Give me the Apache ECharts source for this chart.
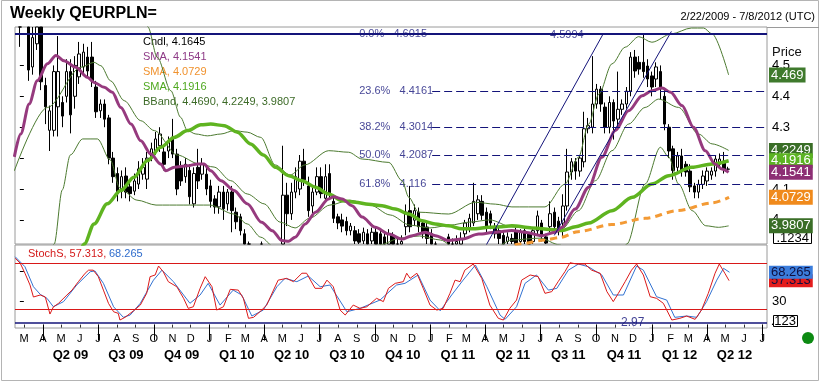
<!DOCTYPE html>
<html><head><meta charset="utf-8">
<script src="https://cdn.jsdelivr.net/npm/echarts@6/dist/echarts.min.js"></script>
<style>html,body{margin:0;padding:0;background:#fff}#c{width:821px;height:383px}</style>
</head><body><div id="c"></div>
<script>
// ---------- DATA ----------
// weekly candles, index 0 = week of 2/22/2009
const candleOpen = [4.80,4.70,4.76,4.495,4.57,4.66,4.435,4.29,4.29,4.366,4.38,4.40,4.48,4.40,4.463,4.495,4.527,4.527,4.43,4.353,4.375,4.33,4.20,4.15,4.093,4.142,4.107,4.093,4.116,4.148,4.132,4.20,4.223,4.24,4.22,4.223,4.268,4.213,4.17,4.14,4.16,4.052,4.17,4.148,4.148,4.11,4.068,4.042,4.09,4.052,4.09,4.025,4.01,3.955,3.915,3.885,3.875,3.885,3.88,3.87,3.875,3.86,3.90,4.08,4.02,4.09,4.10,4.19,4.11,4.045,4.09,4.14,4.07,4.15,4.06,4.01,4.00,3.995,3.965,3.965,3.955,3.932,3.955,3.932,3.96,3.955,3.945,3.91,3.95,3.92,3.91,3.978,4.03,3.999,4.025,3.99,3.977,3.955,3.91,3.89,3.87,3.945,3.915,3.92,3.92,3.955,3.975,3.99,4.02,4.06,4.025,4.02,3.978,3.965,3.95,3.93,3.94,3.965,3.93,3.965,3.955,3.93,3.965,3.99,3.945,3.978,4.025,3.996,3.99,4.045,4.155,4.188,4.158,4.188,4.295,4.30,4.375,4.423,4.365,4.30,4.38,4.326,4.358,4.375,4.417,4.527,4.51,4.51,4.498,4.466,4.456,4.48,4.40,4.30,4.23,4.17,4.207,4.18,4.158,4.11,4.09,4.115,4.126,4.145,4.158,4.18,4.19,4.164];
const candleClose = [4.70,4.76,4.485,4.59,4.65,4.447,4.366,4.353,4.48,4.48,4.336,4.48,4.34,4.50,4.537,4.543,4.482,4.45,4.35,4.375,4.326,4.20,4.14,4.085,4.14,4.09,4.085,4.126,4.165,4.17,4.20,4.23,4.262,4.278,4.18,4.252,4.213,4.10,4.126,4.18,4.075,4.15,4.126,4.18,4.10,4.06,4.042,4.09,4.036,4.09,4.03,3.994,3.965,3.915,3.885,3.875,3.885,3.88,3.87,3.875,3.86,3.88,4.08,4.02,4.09,4.14,4.19,4.13,4.03,4.09,4.14,4.085,4.14,4.085,4.005,3.99,3.98,3.965,3.98,3.932,3.928,3.96,3.92,3.96,3.92,3.915,3.91,3.955,3.915,3.91,3.93,4.025,3.978,4.03,3.978,3.955,3.94,3.91,3.89,3.87,3.88,3.915,3.92,3.93,3.94,3.99,4.005,4.06,4.065,4.015,3.978,3.99,3.955,3.94,3.922,3.945,3.93,3.92,3.96,3.93,3.92,3.965,4.013,3.95,3.925,4.02,3.978,3.97,4.045,4.155,4.188,4.158,4.20,4.295,4.305,4.375,4.423,4.375,4.30,4.38,4.32,4.358,4.375,4.417,4.527,4.482,4.488,4.48,4.456,4.43,4.495,4.424,4.31,4.223,4.16,4.207,4.158,4.155,4.107,4.09,4.115,4.142,4.158,4.158,4.197,4.197,4.165,4.1645];
const candleLow = [4.56,4.65,4.45,4.47,4.55,4.42,4.31,4.223,4.27,4.27,4.30,4.38,4.28,4.36,4.44,4.47,4.46,4.43,4.33,4.33,4.30,4.18,4.12,4.06,4.07,4.07,4.06,4.08,4.10,4.13,4.10,4.19,4.21,4.22,4.16,4.20,4.20,4.08,4.11,4.12,4.05,4.04,4.10,4.13,4.08,4.04,4.02,4.02,4.00,4.03,3.96,3.97,3.95,3.89,3.87,3.86,3.86,3.86,3.85,3.85,3.84,3.84,3.88,3.98,4.00,4.07,4.08,4.11,4.01,4.02,4.08,4.07,4.06,4.07,3.99,3.97,3.96,3.95,3.95,3.91,3.91,3.92,3.90,3.92,3.90,3.90,3.89,3.89,3.90,3.89,3.89,3.95,3.96,3.98,3.96,3.94,3.92,3.89,3.87,3.85,3.84,3.89,3.89,3.90,3.90,3.94,3.96,3.98,4.00,4.00,3.96,3.97,3.94,3.92,3.90,3.91,3.91,3.90,3.91,3.91,3.90,3.91,3.95,3.93,3.90,3.96,3.96,3.95,3.945,4.03,4.13,4.13,4.14,4.17,4.28,4.28,4.36,4.35,4.28,4.28,4.26,4.30,4.34,4.36,4.40,4.46,4.47,4.46,4.43,4.40,4.43,4.39,4.29,4.20,4.13,4.15,4.14,4.14,4.09,4.07,4.07,4.10,4.11,4.13,4.14,4.17,4.15,4.155];
const candleHigh = [4.92,4.85,4.80,4.64,4.72,4.70,4.46,4.37,4.50,4.595,4.40,4.52,4.52,4.53,4.576,4.57,4.56,4.576,4.45,4.39,4.39,4.34,4.22,4.17,4.16,4.17,4.13,4.15,4.19,4.20,4.22,4.25,4.285,4.30,4.24,4.27,4.327,4.23,4.19,4.20,4.18,4.17,4.23,4.20,4.17,4.13,4.08,4.11,4.11,4.10,4.11,4.04,4.02,3.97,3.93,3.90,3.91,3.93,3.90,3.90,3.89,3.90,4.24,4.12,4.12,4.17,4.21,4.23,4.14,4.11,4.17,4.17,4.18,4.18,4.08,4.02,4.02,4.01,3.99,3.98,3.97,3.975,3.97,3.975,3.98,3.97,3.96,3.97,3.96,3.94,3.95,4.05,4.11,4.05,4.04,4.00,3.99,3.97,3.93,3.91,3.90,3.955,3.94,3.95,3.96,4.00,4.02,4.12,4.08,4.08,4.04,4.03,3.99,3.975,3.96,3.96,3.955,3.975,3.97,3.975,3.96,3.975,4.03,4.00,3.955,4.06,4.04,4.01,4.083,4.23,4.20,4.20,4.21,4.35,4.33,4.53,4.44,4.433,4.38,4.40,4.39,4.48,4.39,4.43,4.543,4.55,4.53,4.5994,4.52,4.48,4.51,4.50,4.42,4.31,4.24,4.22,4.23,4.19,4.18,4.12,4.13,4.16,4.17,4.17,4.21,4.215,4.22,4.172];

// moving averages / bands: [week, value]
const smaPurple = [[-1.3,4.204],[0.2,4.278],[2.2,4.375],[4.1,4.450],[6.5,4.505],[8.5,4.532],[10.4,4.515],[13.2,4.494],[15.9,4.462],[17.5,4.445],[19.9,4.429],[21.8,4.413],[23.8,4.364],[26.2,4.310],[28.5,4.256],[30.9,4.213],[33.2,4.181],[34.4,4.159],[36.4,4.170],[39.5,4.175],[41.9,4.181],[43.4,4.181],[45.0,4.159],[47.4,4.127],[50.5,4.095],[53.6,4.052],[57.0,3.992],[59.5,3.965],[61.8,3.933],[63.4,3.931],[64.9,3.944],[67.3,3.987],[69.7,4.025],[72.8,4.068],[74.0,4.075],[76.0,4.068],[78.3,4.046],[80.7,4.009],[83.8,3.976],[87.0,3.954],[90.1,3.938],[92.5,3.949],[95.6,3.960],[98.0,3.949],[101.1,3.933],[104.2,3.938],[108.2,3.954],[112.1,3.960],[116.0,3.966],[119.1,3.960],[123.1,3.949],[126.2,3.960],[127.8,3.976],[130.9,4.035],[134.1,4.106],[137.2,4.203],[140.4,4.289],[143.5,4.353],[146.7,4.402],[149.0,4.418],[151.4,4.427],[153.4,4.413],[156.1,4.370],[158.8,4.300],[161.6,4.224],[163.9,4.181],[165.5,4.165],[167.1,4.1541]];
const smaGreen = [[13.5,3.87],[15.2,3.922],[17.5,3.987],[20.6,4.052],[23.8,4.095],[26.9,4.138],[30.1,4.192],[33.2,4.235],[36.4,4.267],[39.5,4.289],[42.7,4.308],[45.0,4.310],[48.2,4.305],[51.3,4.284],[54.4,4.246],[57.4,4.210],[60.3,4.170],[63.4,4.143],[66.5,4.127],[69.7,4.106],[72.8,4.084],[76.0,4.062],[79.1,4.057],[82.2,4.051],[85.4,4.046],[88.5,4.035],[91.7,4.019],[94.8,3.997],[97.9,3.987],[101.1,3.981],[104.2,3.971],[107.4,3.971],[110.5,3.976],[113.6,3.978],[116.0,3.981],[120.7,3.974],[127.8,3.966],[131.0,3.978],[134.1,3.990],[139.6,4.030],[144.4,4.073],[149.0,4.116],[153.0,4.143],[158.4,4.170],[163.2,4.181],[167.1,4.1916]];
const smaOrange = [[114.0,3.905],[117.9,3.922],[123.8,3.935],[127.3,3.943],[131.6,3.962],[139.6,3.985],[147.4,4.005],[155.1,4.030],[163.2,4.055],[167.2,4.0729]];
const bbUpper = [[29.0,4.75],[30.2,4.624],[32.4,4.526],[35.6,4.418],[37.9,4.332],[39.5,4.289],[41.5,4.278],[44.2,4.272],[47.4,4.278],[50.5,4.289],[53.6,4.284],[56.8,4.267],[60.2,4.178],[63.7,4.145],[67.2,4.178],[72.8,4.224],[77.5,4.219],[80.7,4.197],[87.0,4.186],[90.1,4.127],[91.7,4.073],[94.0,4.025],[101.1,4.019],[107.4,4.057],[112.1,4.051],[116.0,4.042],[123.8,4.042],[128.5,4.116],[131.7,4.203],[134.1,4.310],[136.5,4.407],[139.6,4.505],[142.7,4.559],[145.9,4.593],[149.0,4.575],[153.6,4.602],[158.3,4.621],[161.2,4.621],[163.2,4.602],[167.1,4.469]];
const bbMiddle = [[-1.3,4.159],[6.5,4.364],[14.4,4.494],[17.5,4.510],[19.1,4.499],[21.4,4.450],[24.6,4.386],[28.5,4.321],[31.7,4.289],[37.1,4.210],[42.3,4.181],[45.8,4.171],[49.7,4.127],[53.6,4.084],[57.6,4.052],[61.3,3.993],[64.9,3.974],[68.4,4.006],[73.1,4.048],[77.8,4.064],[82.6,4.048],[87.3,4.016],[92.0,3.983],[96.7,3.974],[101.4,3.983],[106.1,3.993],[110.8,4.000],[116.0,3.977],[127.8,3.971],[131.7,4.030],[135.7,4.127],[139.6,4.224],[143.5,4.310],[147.4,4.364],[150.6,4.391],[155.3,4.364],[160.0,4.278],[163.2,4.246],[167.1,4.2249]];
const bbLower = [[7.1,3.90],[8.1,3.922],[10.0,4.097],[11.9,4.210],[14.8,4.262],[18.3,4.262],[21.3,4.194],[23.6,4.103],[27.6,4.064],[32.1,4.048],[38.5,4.048],[44.8,4.048],[50.5,4.019],[53.6,3.987],[56.8,3.944],[60.2,3.909],[63.7,3.918],[68.4,3.87],[77.8,3.887],[84.9,3.919],[89.6,3.941],[94.3,3.948],[99.1,3.935],[103.8,3.896],[110.8,3.90],[116.0,3.935],[122.6,3.941],[127.3,3.919],[132.1,3.838],[139.1,3.773],[143.1,3.922],[147.4,4.116],[151.0,4.235],[153.0,4.203],[155.3,4.116],[158.5,4.030],[161.7,3.981],[164.7,3.976],[167.1,3.9807]];

// stochastics: [week, value]
const stochK = [[-1.1,86.5],[0.1,80],[1.2,67],[2.4,51.6],[3.2,36],[4.8,38.6],[6.0,36],[7.1,13.8],[7.9,23],[9.1,27.7],[11.1,38.6],[12.3,45],[13.8,56],[15.4,67],[16.2,71],[17.3,71],[18.5,62.5],[19.7,45],[20.9,27.7],[22.1,16.8],[23.2,14.7],[23.6,6],[24.8,9.5],[26.8,18],[28.4,25.5],[29.9,40.8],[30.7,62.5],[31.9,64.7],[32.7,76.4],[33.8,69],[35.0,56],[37.0,49.4],[38.6,34.3],[39.7,21.2],[40.9,23.3],[42.5,47.3],[43.7,62.5],[45.3,49.4],[46.4,19],[48.0,23.3],[49.6,46],[51.5,45],[52.7,34.3],[53.9,8.2],[55.1,9.5],[56.6,16.8],[58.2,25.5],[59.8,45],[60.9,58],[62.9,60.3],[64.5,56],[66.5,67],[67.6,67],[69.6,47.3],[71.2,47.3],[72.4,58],[73.9,49.4],[75.5,19],[76.7,12.5],[78.6,25.5],[80.2,21.2],[81.8,23.3],[84.1,34.3],[85.7,30],[86.9,47.3],[88.5,53.8],[90.4,56],[91.2,67],[92.0,60.3],[93.6,67],[95.1,47.3],[96.7,25.5],[98.3,19],[99.8,21.2],[101.4,40.8],[102.6,58],[103.8,56],[104.9,71],[106.9,79],[108.9,60.3],[110.8,25.5],[112.8,8.2],[114.0,6],[115.5,21.2],[117.1,32],[118.3,58],[120.3,64.7],[122.2,62.5],[123.8,40.8],[125.4,43],[126.9,56],[128.5,69],[129.7,80.7],[131.3,79],[133.2,79],[134.8,71],[136.8,67],[138.4,43],[139.9,30],[141.1,40.8],[142.7,56],[144.2,71],[145.4,79],[147.0,64.7],[148.6,36.4],[150.1,34.3],[151.7,27.8],[153.7,6],[155.6,8.2],[157.2,11.2],[159.2,6.9],[160.7,19],[162.3,40.8],[163.9,67],[164.9,79],[166.2,67],[167.2,57.313]];
const stochD = [[-1.1,88.5],[1.2,75.5],[3.2,49.4],[4.8,39.5],[6.4,34.3],[7.9,23.3],[10.3,30],[13.4,51.6],[16.6,69],[17.7,70],[19.7,53.8],[22.1,23.3],[24.4,9.5],[26.0,12.5],[28.4,27.8],[31.5,58],[33.5,71],[36.2,56],[40.1,27.8],[42.5,38.6],[44.4,53.8],[47.2,25.5],[50.3,45],[52.3,38.6],[54.7,11.2],[57.4,19],[60.6,49.4],[62.5,60.3],[65.3,56],[68.0,63.4],[70.8,49.4],[73.1,51.6],[77.1,16.8],[80.2,21.2],[84.9,32],[88.8,51.6],[90.8,53.8],[92.0,58],[93.9,64.7],[96.7,32],[99.1,18],[101.8,38.6],[104.5,58],[107.4,77.7],[110.1,49.4],[113.2,12.5],[114.4,6.9],[117.1,23.3],[119.1,53.8],[121.8,64.7],[124.6,45],[126.6,47.3],[129.3,71],[131.7,79],[134.0,75.5],[137.2,64.7],[139.9,38.6],[142.3,38.6],[145.4,76.4],[147.0,71],[150.1,36.4],[152.5,32],[154.4,9.5],[157.2,11.2],[159.6,9.5],[161.9,30],[164.3,58],[165.9,73.4],[167.3,68.265]];

// annotations
const fibPct = ['0.0%','23.6%','38.2%','50.0%','61.8%'];
const fibLevels = [4.6015,4.4161,4.3014,4.2087,4.116];
const fibLabelWeek = 80.0, fibLineWeek = 97.2;
const highLevel = 4.5994, highLabelWeek = 125.0;
const trendA = [[109.0,3.895],[137.5,4.6015]];
const trendB = [[126.0,3.95],[153.6,4.61]];
const stochBands = [80,20];
const stochLow = 2.97, stochLowLabelWeek = 144.5;

// axis labels
const priceTicks = [4.0,4.1,4.2,4.3,4.4,4.5];
const stochTicks = [30,70];
const monthLetters = ['J','F','M','A','M','J','J','A','S','O','N','D'];
const quarterNames = ['Q2 09','Q3 09','Q4 09','Q1 10','Q2 10','Q3 10','Q4 10','Q1 11','Q2 11','Q3 11','Q4 11','Q1 12','Q2 12'];
const boxValues = [4.469,4.2249,4.1916,4.1541,4.0729,3.9807];
const boxColors = ['#3f7a2c','#3a6e27','#5cb423','#8d2f74','#f08a1c','#3a6e27'];
const stochBoxValues = [57.313,68.265];
const stochBoxColors = ['#e41c1c','#3b7ddc'];

// ---------- SCALES ----------
const START = Date.UTC(2009,1,22), WEEK = 7*864e5;
const wk = (y,m,d) => (Date.UTC(y,m-1,d)-START)/WEEK;
const X_MIN = wk(2009,2,14), X_MAX = wk(2012,7,9);
const Y_MIN = 3.922, Y_MAX = 4.6243, S_MIN = -4.4, S_MAX = 103.8;
const FONT = 'Liberation Sans, Arial, sans-serif';
const NAVY = '#14147a';

const monthTicks = [];
for (let y=2009,m=3; y<2012 || (y===2012 && m<=7); ) { monthTicks.push(wk(y,m,1)); m++; if (m>12){m=1;y++;} }
const quarterStarts = [];
for (let y=2009,m=4; y<2012 || (y===2012 && m<=7); ) { quarterStarts.push(wk(y,m,1)); m+=3; if (m>12){m-=12;y++;} }
const quarterMids = quarterNames.map((q,i)=> (quarterStarts[i]+quarterStarts[i+1])/2);

// candles limited to the visible price window (the pane crops them)
const clampY = v => Math.min(Y_MAX, Math.max(Y_MIN, v));
const candles = [];
candleOpen.forEach((o,i)=>{
  const c=candleClose[i], l=candleLow[i], h=candleHigh[i];
  if (h < Y_MIN || l > Y_MAX) return;
  candles.push([i, clampY(o), clampY(c), clampY(l), clampY(h)]);
});

const boxRich = {}; boxValues.forEach((v,i)=>{ boxRich['b'+i] = {backgroundColor:boxColors[i], color:'#fff', fontSize:13, fontFamily:FONT, padding:[1,2,1,2], lineHeight:13}; });
const findIdx = (arr,v)=>arr.findIndex(b=>Math.abs(b-v)<1e-6);

const chart = echarts.init(document.getElementById('c'), null, {renderer:'canvas', width:821, height:383});
const hidden = {axisLine:{show:false}, axisTick:{show:false}, axisLabel:{show:false}, splitLine:{show:false}};
const line = (data, color, width, extra) => Object.assign({type:'line', data, xAxisIndex:0, yAxisIndex:0, symbol:'none', smooth:0.3, smoothMonotone:'x', lineStyle:{color, width}, silent:true}, extra||{});
const allLabels = {hideOverlap:false, showMinLabel:true, showMaxLabel:true};

// one axis per stochastic value box so neither hides the other
const stochBoxAxes = stochBoxValues.map((v,i)=>({gridIndex:1, type:'value', position:'right', offset:0, min:S_MIN, max:S_MAX,
  axisLine:{show:false}, splitLine:{show:false}, axisTick:{show:false},
  axisLabel:Object.assign({customValues:[v], margin:2, formatter:()=>'{s|'+v+'}',
    rich:{s:{backgroundColor:stochBoxColors[i], color:'#101040', fontSize:13, fontFamily:FONT, padding:[0,2,0,2], lineHeight:11}}}, allLabels)}));

chart.setOption({
  animation:false,
  backgroundColor:'#fff',
  grid:[
    {left:15, top:27, width:752, height:217, show:true, borderColor:'#9a9a9a', borderWidth:1, containLabel:false},
    {left:15, top:245, width:752, height:83, show:true, borderColor:'#9a9a9a', borderWidth:1, containLabel:false}
  ],
  xAxis:[
    Object.assign({gridIndex:0, type:'value', min:X_MIN, max:X_MAX}, hidden),
    {gridIndex:1, type:'value', min:X_MIN, max:X_MAX, position:'bottom', axisLine:{show:false}, splitLine:{show:false},
     axisTick:{show:true, length:3, lineStyle:{color:'#333'}, customValues:monthTicks},
     axisLabel:Object.assign({customValues:monthTicks, margin:5, fontSize:11, color:'#000', fontFamily:FONT,
       formatter:v=>monthLetters[new Date(START+v*WEEK+43200000).getUTCMonth()]}, allLabels)},
    {gridIndex:1, type:'value', min:X_MIN, max:X_MAX, position:'bottom', offset:19, axisLine:{show:false}, splitLine:{show:false},
     axisTick:{show:true, length:16, inside:false, lineStyle:{color:'#000', width:1}, customValues:quarterStarts},
     axisLabel:Object.assign({customValues:quarterMids, margin:2, fontSize:13, fontWeight:'bold', color:'#000', fontFamily:FONT,
       formatter:v=>{const k=quarterMids.findIndex(q=>Math.abs(q-v)<1e-6); return k>=0?quarterNames[k]:'';}}, allLabels)}
  ],
  yAxis:[
    {gridIndex:0, type:'value', position:'right', offset:0, min:Y_MIN, max:Y_MAX, axisLine:{show:false}, splitLine:{show:false},
     axisTick:{show:true, length:4, lineStyle:{color:'#000'}, customValues:priceTicks},
     axisLabel:Object.assign({customValues:priceTicks, margin:5, fontSize:13, color:'#000', fontFamily:FONT, formatter:v=>Math.abs(v-4)<1e-9?'4':v.toFixed(1)}, allLabels)},
    {gridIndex:0, type:'value', position:'right', offset:0, min:Y_MIN, max:Y_MAX, axisLine:{show:false}, splitLine:{show:false}, axisTick:{show:false},
     axisLabel:Object.assign({customValues:boxValues, margin:2, rich:boxRich, formatter:v=>{const k=findIdx(boxValues,v); return '{b'+k+'|'+boxValues[k]+'}';}}, allLabels)},
    {gridIndex:1, type:'value', position:'right', offset:0, min:S_MIN, max:S_MAX, axisLine:{show:false}, splitLine:{show:false},
     axisTick:{show:true, length:4, lineStyle:{color:'#000'}, customValues:stochTicks},
     axisLabel:Object.assign({customValues:stochTicks, margin:5, fontSize:13, color:'#000', fontFamily:FONT}, allLabels)}
  ].concat(stochBoxAxes),
  series:[
    line(bbUpper,'#4c7a30',1),
    line(bbMiddle,'#4c7a30',1),
    line(bbLower,'#4c7a30',1),
    {type:'candlestick', data:candles, xAxisIndex:0, yAxisIndex:0, encode:{x:0, y:[1,2,3,4]}, barWidth:3, silent:true,
     itemStyle:{color:'#fff', color0:'#000', borderColor:'#000', borderColor0:'#000', borderWidth:1}},
    line(smaOrange,'#f39a35',3,{lineStyle:{color:'#f39a35', width:3, type:[7,5]}}),
    line(smaGreen,'#5fb420',3.5),
    line(smaPurple,'#963a7e',3),
    line(trendA, NAVY, 1, {smooth:false, markLine:{silent:true, symbol:['none','none'], label:{show:false},
      data: fibLevels.map((lv,i)=> i===0
        ? [{coord:[X_MIN,lv], lineStyle:{color:NAVY, width:2, type:'solid'}},{coord:[X_MAX,lv]}]
        : [{coord:[fibLineWeek,lv], lineStyle:{color:NAVY, width:1, type:[8,4]}},{coord:[X_MAX,lv]}])
        .concat([[{coord:[X_MIN,highLevel], lineStyle:{color:NAVY, width:1, type:'solid'}},{coord:[X_MAX,highLevel]}]])}}),
    line(trendB, NAVY, 1, {smooth:false}),
    {type:'scatter', xAxisIndex:0, yAxisIndex:0, symbolSize:0, silent:true,
     data: fibLevels.map((lv,i)=>[fibLabelWeek, lv, fibPct[i]+'   '+lv]).concat([[highLabelWeek, highLevel, String(highLevel)]]),
     label:{show:true, position:'right', distance:0, color:NAVY, fontSize:11, fontFamily:FONT, formatter:p=>p.data[2]}},
    {type:'line', xAxisIndex:1, yAxisIndex:2, data:stochD, symbol:'none', silent:true, lineStyle:{color:'#3272d2', width:1},
     markLine:{silent:true, symbol:['none','none'], label:{show:false},
       data: stochBands.map(b=>[{coord:[X_MIN,b], lineStyle:{color:'#d81818', width:1, type:'solid'}},{coord:[X_MAX,b]}])
        .concat([[{coord:[X_MIN,stochLow], lineStyle:{color:NAVY, width:1.5, type:'solid'}},{coord:[X_MAX,stochLow]}]])}},
    {type:'line', xAxisIndex:1, yAxisIndex:2, data:stochK, symbol:'none', silent:true, lineStyle:{color:'#dc1a1a', width:1}},
    {type:'scatter', xAxisIndex:1, yAxisIndex:2, symbolSize:0, silent:true, data:[[stochLowLabelWeek, stochLow]],
     label:{show:true, position:'inside', color:NAVY, fontSize:12, fontFamily:FONT, backgroundColor:'#fff', padding:[0,5], formatter:p=>String(p.data[1])}}
  ],
  graphic:[
    {type:'rect', shape:{x:1.5,y:0.5,width:817,height:380}, style:{fill:'none', stroke:'#b4b4b4', lineWidth:1}, silent:true, z:-1},
    {type:'line', shape:{x1:767,y1:27.5,x2:819,y2:27.5}, style:{stroke:'#9a9a9a', lineWidth:1}, silent:true},
    {type:'text', x:10, y:6, style:{text:'Weekly QEURPLN=', fill:'#000', font:'bold 16px '+FONT}},
    {type:'text', x:815, y:11, style:{text:'2/22/2009 - 7/8/2012 (UTC)', fill:'#000', font:'11px '+FONT, align:'right'}},
    {type:'text', x:143, y:36, style:{text:'Cndl, 4.1645', fill:'#000', font:'11px '+FONT}},
    {type:'text', x:143, y:51, style:{text:'SMA, 4.1541', fill:'#8e3a86', font:'11px '+FONT}},
    {type:'text', x:143, y:66, style:{text:'SMA, 4.0729', fill:'#f0922e', font:'11px '+FONT}},
    {type:'text', x:143, y:81, style:{text:'SMA, 4.1916', fill:'#4ea81e', font:'11px '+FONT}},
    {type:'text', x:143, y:96, style:{text:'BBand, 4.4690, 4.2249, 3.9807', fill:'#3d6b28', font:'11px '+FONT}},
    {type:'text', x:772, y:46, style:{text:'Price', fill:'#111', font:'13px '+FONT}},
    {type:'text', x:28, y:248, style:{text:'StochS, 57.313,', fill:'#d41a1a', font:'11px '+FONT}},
    {type:'text', x:109, y:248, style:{text:'68.265', fill:'#2f6ccc', font:'11px '+FONT}},
    {type:'rect', shape:{x:773.5,y:232.5,width:38,height:11}, style:{fill:'#fff', stroke:'#000', lineWidth:1}, silent:true},
    {type:'text', x:809, y:232, style:{text:'.1234', fill:'#000', font:'13px '+FONT, align:'right'}},
    {type:'rect', shape:{x:773.5,y:315.5,width:24,height:11}, style:{fill:'#fff', stroke:'#000', lineWidth:1}, silent:true},
    {type:'text', x:796, y:315, style:{text:'.123', fill:'#000', font:'13px '+FONT, align:'right'}},
    {type:'circle', shape:{cx:808, cy:338, r:6}, style:{fill:'#0c8a12'}, silent:true}
  ]
});
</script></body></html>
